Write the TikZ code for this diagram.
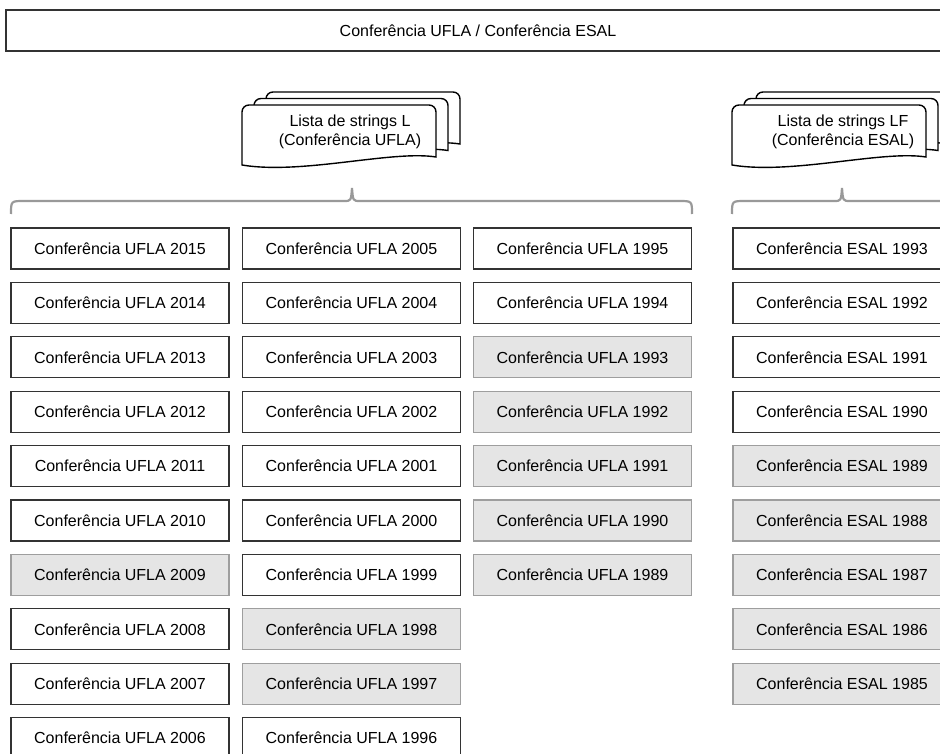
\documentclass[tikz,border=0pt]{standalone}
\usepackage{fontspec}
\setmainfont{Liberation Sans}

% one sheet of the stacked document shape, top left corner at (#1,#2)
\newcommand{\folha}[2]{%
  \path[folhadoc] (#1,#2+60) [rounded corners=7pt] -- (#1,#2) -- (#1+194,#2) [sharp corners] -- (#1+194,#2+52)
    .. controls (#1+150,#2+45) and (#1+60,#2+70) .. (#1,#2+60) -- cycle;}

\tikzset{
  yearbox/.style = {draw=black!80, line width=1.1pt, fill=white, minimum width=218pt, minimum height=41pt,
                    inner sep=0pt, font=\fontsize{16}{19}\selectfont},
  oldbox/.style  = {yearbox, draw=black!38, fill=black!10},
  folhadoc/.style = {draw=black, line width=1.4pt, fill=white},
  chave/.style   = {draw=black!40, line width=2.2pt},
}

\begin{document}
\begin{tikzpicture}[x=1pt,y=-1pt]
  \useasboundingbox (0,0) rectangle (940,754);
  \clip (0,0) rectangle (940,754);

  \node[yearbox, minimum width=944pt] (titulo) at (478,30.5) {Conferência UFLA / Conferência ESAL};

  % stacked documents
  \folha{266}{92} \folha{254}{98.5} \folha{242}{105}
  \folha{756}{92} \folha{744}{98.5} \folha{732}{105}
  \node[align=center, font=\fontsize{16}{19}\selectfont] (listaL) at (350,132) {Lista de strings L\\(Conferência UFLA)};
  \node[align=center, font=\fontsize{16}{19}\selectfont] (listaLF) at (843,132) {Lista de strings LF\\(Conferência ESAL)};

  % braces
  \draw[chave] (11,214) .. controls (11,201) .. (24,201) -- (344,201) .. controls (351,201) .. (352,188)
    .. controls (353,201) .. (360,201) -- (679,201) .. controls (692,201) .. (692,214);
  \draw[chave] (732,214) .. controls (732,201) .. (745,201) -- (834,201) .. controls (841,201) .. (842,188)
    .. controls (843,201) .. (850,201) -- (960,201);

  % UFLA editions
  \foreach \ano/\estilo [count=\i from 0] in {2015/yearbox,2014/yearbox,2013/yearbox,2012/yearbox,2011/yearbox,
      2010/yearbox,2009/oldbox,2008/yearbox,2007/yearbox,2006/yearbox}
    \node[\estilo] (u\ano) at (120,248.5+54.4*\i) {Conferência UFLA \ano};
  \foreach \ano/\estilo [count=\i from 0] in {2005/yearbox,2004/yearbox,2003/yearbox,2002/yearbox,2001/yearbox,
      2000/yearbox,1999/yearbox,1998/oldbox,1997/oldbox,1996/yearbox}
    \node[\estilo] (u\ano) at (351.5,248.5+54.4*\i) {Conferência UFLA \ano};
  \foreach \ano/\estilo [count=\i from 0] in {1995/yearbox,1994/yearbox,1993/oldbox,1992/oldbox,1991/oldbox,
      1990/oldbox,1989/oldbox}
    \node[\estilo] (u\ano) at (582.5,248.5+54.4*\i) {Conferência UFLA \ano};

  % ESAL editions
  \foreach \ano/\estilo [count=\i from 0] in {1993/yearbox,1992/yearbox,1991/yearbox,1990/yearbox,1989/oldbox,
      1988/oldbox,1987/oldbox,1986/oldbox,1985/oldbox}
    \node[\estilo] (e\ano) at (842,248.5+54.4*\i) {Conferência ESAL \ano};
\end{tikzpicture}
\end{document}
